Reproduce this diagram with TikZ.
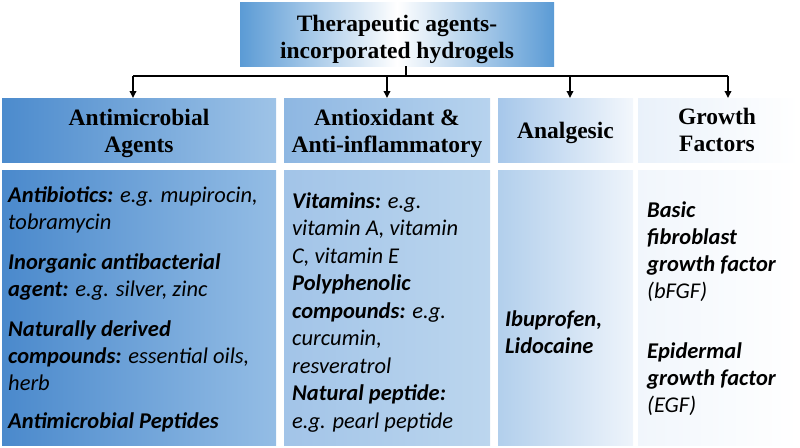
\documentclass[tikz,border=0pt]{standalone}
\usepackage{fontspec}
\setmainfont{Liberation Serif}
\newfontfamily\carl{Carlito}
\usetikzlibrary{arrows.meta,calc}
\definecolor{tbside}{HTML}{5B9BD5}
\definecolor{hAl}{HTML}{4C8BCD}\definecolor{hAr}{HTML}{9EC3E7}
\definecolor{hBl}{HTML}{8EB7E2}\definecolor{hBr}{HTML}{B7D3EE}
\definecolor{hCl}{HTML}{A6C7EA}\definecolor{hCr}{HTML}{F3F7FC}
\definecolor{hDl}{HTML}{E9F1FA}\definecolor{hDr}{HTML}{FFFFFF}
\definecolor{cAl}{HTML}{4A89CC}\definecolor{cAr}{HTML}{94BDE5}
\definecolor{cBl}{HTML}{A2C4E8}\definecolor{cBr}{HTML}{BCD6EE}
\definecolor{cCl}{HTML}{B2CFEC}\definecolor{cCr}{HTML}{EEF4FB}
\definecolor{cDl}{HTML}{F1F6FC}\definecolor{cDr}{HTML}{FFFFFF}
\newcommand{\fl}{\rule{0pt}{20pt}}
\begin{document}
\begin{tikzpicture}[x=1pt,y=-1pt,
  panel/.style={inner sep=0pt, outer sep=0pt, draw=none},
  htext/.style={inner sep=0pt, align=center, anchor=north, font=\bfseries\fontsize{23.5}{27}\selectfont},
  ctext/.style={inner sep=0pt, align=left, anchor=north west, font=\carl\itshape\fontsize{22.5}{27}\selectfont},
  conn/.style={line width=1.8pt, black},
  arr/.style={conn, -{Triangle[length=7pt,width=6.5pt]}}]
\useasboundingbox (0,0) rectangle (800,447);
% title
\node[panel, left color=tbside, right color=tbside, middle color=white, minimum width=314pt, minimum height=64pt] (top) at (397,34) {};
\node[htext] (toptxt) at (397,11) {\fl Therapeutic agents-\\incorporated hydrogels};
% header panels
\node[panel, left color=hAl, right color=hAr, minimum width=274pt, minimum height=64pt] (h1) at (139,130) {};
\node[panel, left color=hBl, right color=hBr, minimum width=206pt, minimum height=64pt] (h2) at (387,130) {};
\node[panel, left color=hCl, right color=hCr, minimum width=135pt, minimum height=64pt] (h3) at (565.5,130) {};
\node[panel, left color=hDl, right color=hDr, minimum width=160pt, minimum height=64pt] (h4) at (718,130) {};
\node[htext] (h1t) at (139,105) {\fl Antimicrobial\\Agents};
\node[htext] (h2t) at (387,105) {\fl Antioxidant \&\\Anti-inflammatory};
\node[htext] (h3t) at (565.5,118) {\fl Analgesic};
\node[htext] (h4t) at (717,104) {\fl Growth\\Factors};
% content panels
\node[panel, left color=cAl, right color=cAr, minimum width=274pt, minimum height=275pt] (c1) at (139,307.5) {};
\node[panel, left color=cBl, right color=cBr, minimum width=206pt, minimum height=275pt] (c2) at (387,307.5) {};
\node[panel, left color=cCl, right color=cCr, minimum width=135pt, minimum height=275pt] (c3) at (565.5,307.5) {};
\node[panel, left color=cDl, right color=cDr, minimum width=160pt, minimum height=275pt] (c4) at (718,307.5) {};
% content text
\node[ctext] (t1) at (8,182) {\fl\textbf{Antibiotics:} e.g. mupirocin,\\tobramycin\\[13pt]
  \textbf{Inorganic antibacterial}\\\textbf{agent:} e.g. silver, zinc\\[13pt]
  \textbf{Naturally derived}\\\textbf{compounds:} essential oils,\\herb\\[11pt]
  \textbf{Antimicrobial Peptides}};
\node[ctext, font=\carl\itshape\fontsize{22.5}{27.5}\selectfont] (t2) at (292,188) {\fl\textbf{Vitamins:} e.g.\\vitamin A, vitamin\\C, vitamin E\\
  \textbf{Polyphenolic}\\\textbf{compounds:} e.g.\\curcumin,\\resveratrol\\
  \textbf{Natural peptide:}\\e.g. pearl peptide};
\node[ctext] (t3) at (505,306) {\fl\textbf{Ibuprofen,}\\\textbf{Lidocaine}};
\node[ctext] (t4) at (647,197) {\fl\textbf{Basic}\\\textbf{fibroblast}\\\textbf{growth factor}\\(bFGF)\\[33pt]
  \textbf{Epidermal}\\\textbf{growth factor}\\(EGF)};
% connectors
\coordinate (stem) at ($(top.south)+(9,0)$);
\coordinate (bus) at ($(stem)+(0,10)$);
\coordinate (a1) at (133,76);
\coordinate (a4) at (728,76);
\draw[line width=1.2pt] (stem) -- (bus);
\draw[conn] (a1) -- (a4);
\draw[arr] (a1) -- (a1 |- h1.north);
\draw[arr] (a1 -| h2.north) -- (h2.north);
\draw[arr] (a1 -| 570,0) -- (570,98);
\draw[arr] (a4) -- (a4 |- h4.north);
\end{tikzpicture}
\end{document}
